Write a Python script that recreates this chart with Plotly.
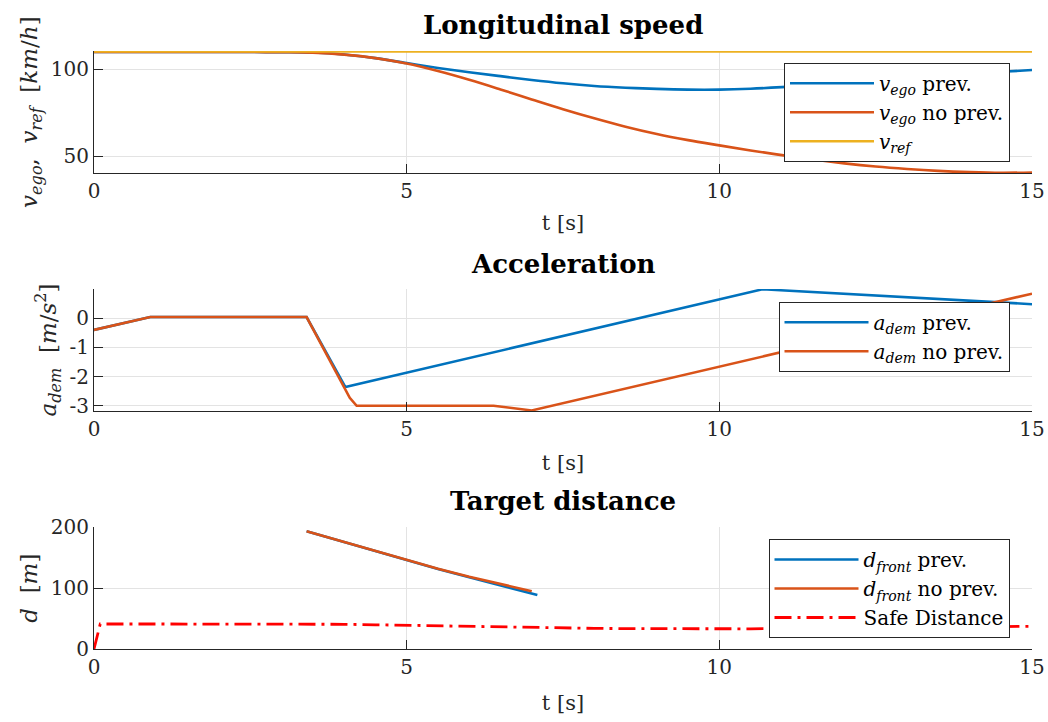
import plotly.graph_objects as go

# ---------------- data ----------------
t_speed = [0, 0.5, 1, 1.5, 2, 2.5, 3, 3.5, 4, 4.5, 5, 5.5, 6, 6.5, 7, 7.5,
           8, 8.5, 9, 9.5, 10, 10.5, 11, 11.5, 12, 12.5, 13, 13.5, 14, 14.5, 15]
v_ego_prev = [109.7, 109.7, 109.7, 109.7, 109.7, 109.7, 109.6, 109.4, 108.3, 106.2,
              103.4, 100.6, 98.1, 95.9, 93.7, 91.8, 90.3, 89.3, 88.6, 88.2,
              88.2, 88.7, 89.6, 90.7, 92.0, 93.4, 94.8, 96.1, 97.3, 98.4, 99.4]
v_ego_noprev = [109.7, 109.7, 109.7, 109.7, 109.7, 109.7, 109.6, 109.3, 108.2, 106.2,
                103.1, 98.8, 93.8, 88.3, 82.6, 77.0, 71.8, 67.0, 62.8, 59.3,
                56.3, 53.4, 50.7, 48.2, 46.0, 44.2, 42.8, 41.7, 41.0, 40.6, 40.8]
t_ref = [0, 15]
v_ref = [110, 110]

t_a_prev = [0, 0.9, 3.4, 4.02, 10.69, 15]
a_dem_prev = [-0.40, 0.04, 0.04, -2.36, 0.99, 0.48]
t_a_noprev = [0, 0.9, 3.4, 4.09, 4.2, 6.39, 7.0, 15]
a_dem_noprev = [-0.40, 0.04, 0.04, -2.73, -3.0, -3.0, -3.16, 0.84]

t_d_prev = [3.4, 4.0, 4.5, 5.0, 5.5, 6.0, 6.5, 7.0, 7.09]
d_front_prev = [193.4, 175.6, 161.0, 146.0, 131.6, 117.8, 104.4, 91.2, 88.8]
t_d_noprev = [3.4, 4.0, 4.5, 5.0, 5.5, 6.0, 6.5, 7.0]
d_front_noprev = [193.4, 175.6, 161.0, 146.2, 132.0, 118.7, 106.4, 95.0]
t_safe = [0, 0.1, 1, 2, 3, 3.5, 4, 4.5, 5, 5.5, 6, 6.5, 7, 7.5, 8, 8.5, 9, 9.5,
          10, 10.5, 11, 11.5, 12, 12.5, 13, 13.5, 14, 14.5, 15]
d_safe = [0, 41.1, 41.1, 41.1, 41.1, 41.0, 40.6, 39.8, 38.8, 37.7, 36.8, 36.0, 35.1,
          34.4, 33.9, 33.5, 33.2, 33.1, 33.1, 33.2, 33.6, 34.0, 34.5, 35.0, 35.6,
          36.1, 36.5, 36.9, 37.3]

x_ticks = [0, 5, 10, 15]
v_ticks = [50, 100]
a_ticks = [0, -1, -2, -3]
a_tick_text = ["0", "-1", "-2", "-3"]
d_ticks = [0, 100, 200]

titles = ["Longitudinal speed", "Acceleration", "Target distance"]

# ---------------- style ----------------
BLUE = "#0072BD"
ORANGE = "#D95319"
YELLOW = "#EDB120"
RED = "#FF0000"
AX = "#262626"
SERIF = "DejaVu Serif"
W = 1048
H = 722

fig = go.Figure()

def line(x, y, name, color, xa, ya, leg, dash=None, width=2.6, shape="linear"):
    fig.add_trace(go.Scatter(
        x=x, y=y, name=name, mode="lines", xaxis=xa, yaxis=ya, legend=leg,
        line=dict(color=color, width=width, dash=dash, shape=shape)))

line(t_speed, v_ego_prev, "<i>v</i><sub><i>ego</i></sub> prev.", BLUE, "x", "y", "legend", shape="spline")
line(t_speed, v_ego_noprev, "<i>v</i><sub><i>ego</i></sub> no prev.", ORANGE, "x", "y", "legend", shape="spline")
line(t_ref, v_ref, "<i>v</i><sub><i>ref</i></sub>", YELLOW, "x", "y", "legend")

line(t_a_prev, a_dem_prev, "<i>a</i><sub><i>dem</i></sub> prev.", BLUE, "x2", "y2", "legend2")
line(t_a_noprev, a_dem_noprev, "<i>a</i><sub><i>dem</i></sub> no prev.", ORANGE, "x2", "y2", "legend2")

line(t_d_prev, d_front_prev, "<i>d</i><sub><i>front</i></sub> prev.", BLUE, "x3", "y3", "legend3")
line(t_d_noprev, d_front_noprev, "<i>d</i><sub><i>front</i></sub> no prev.", ORANGE, "x3", "y3", "legend3")
line(t_safe, d_safe, "Safe Distance", RED, "x3", "y3", "legend3",
     dash="17px,6px,3px,6px", width=2.8)

# vertical placement of the three panels (pixel rows, top/bottom)
panels = [(51, 173.3), (289, 411), (527.3, 649)]
domains = [[1 - b / H, 1 - t / H] for t, b in panels]
x_title_standoff = [13, 15, 17]

def xaxis(anchor, standoff):
    return dict(
        domain=[0, 1], anchor=anchor, range=[0, 15], tickvals=x_ticks,
        showline=True, linecolor=AX, linewidth=1, mirror=False,
        ticks="inside", ticklen=9, tickcolor=AX, tickwidth=1,
        showgrid=True, gridcolor="#e3e3e3", gridwidth=1, zeroline=False,
        automargin=False,
        tickfont=dict(family=SERIF, size=20, color=AX),
        title=dict(text="t [s]", font=dict(family=SERIF, size=21, color=AX), standoff=standoff),
    )

def yaxis(anchor, dom, rng, vals, text, title):
    return dict(
        domain=dom, anchor=anchor, range=rng, tickvals=vals, ticktext=text,
        showline=True, linecolor=AX, linewidth=1, mirror=False,
        ticks="inside", ticklen=9, tickcolor=AX, tickwidth=1,
        showgrid=True, gridcolor="#e3e3e3", gridwidth=1, zeroline=False,
        automargin=False,
        tickfont=dict(family=SERIF, size=20, color=AX),
        title=dict(text=title, font=dict(family=SERIF, size=23, color=AX), standoff=6),
    )

legend_common = dict(
    bgcolor="white", bordercolor=AX, borderwidth=1,
    font=dict(family=SERIF, size=20, color="black"),
    xanchor="right", yanchor="top", itemwidth=84, tracegroupgap=0,
)

PW = W - 94 - 16
def px_x(p):
    return (p - 94) / PW

fig.update_layout(
    width=W, height=H,
    margin=dict(l=94, r=16, t=0, b=0, autoexpand=False),
    plot_bgcolor="white", paper_bgcolor="white",
    showlegend=True,
    xaxis=xaxis("y", x_title_standoff[0]),
    xaxis2=xaxis("y2", x_title_standoff[1]),
    xaxis3=xaxis("y3", x_title_standoff[2]),
    yaxis=yaxis("x", domains[0], [40.3, 110.3], v_ticks, None,
                "<i>v</i><sub><i>ego</i></sub>,  <i>v</i><sub><i>ref</i></sub>  [<i>km</i>/<i>h</i>]"),
    yaxis2=yaxis("x2", domains[1], [-3.18, 1.0], a_ticks, a_tick_text,
                 "<i>a</i><sub><i>dem</i></sub>  [<i>m</i>/<i>s</i><sup>2</sup>]"),
    yaxis3=yaxis("x3", domains[2], [0, 200], d_ticks, None, "<i>d</i>  [<i>m</i>]"),
    legend=dict(legend_common, x=px_x(1010), y=1 - 62.7 / H),
    legend2=dict(legend_common, x=px_x(1009.5), y=1 - 301.7 / H),
    legend3=dict(legend_common, x=px_x(1009.5), y=1 - 539 / H),
)

# panel titles
title_rows = [25, 264, 501]
for txt, row in zip(titles, title_rows):
    fig.add_annotation(
        text="<b>%s</b>" % txt, xref="paper", yref="paper",
        x=0.5, y=1 - row / H, xanchor="center", yanchor="middle",
        showarrow=False, font=dict(family="DejaVu Serif", size=26, color="black"))

fig.write_html("out.html")
